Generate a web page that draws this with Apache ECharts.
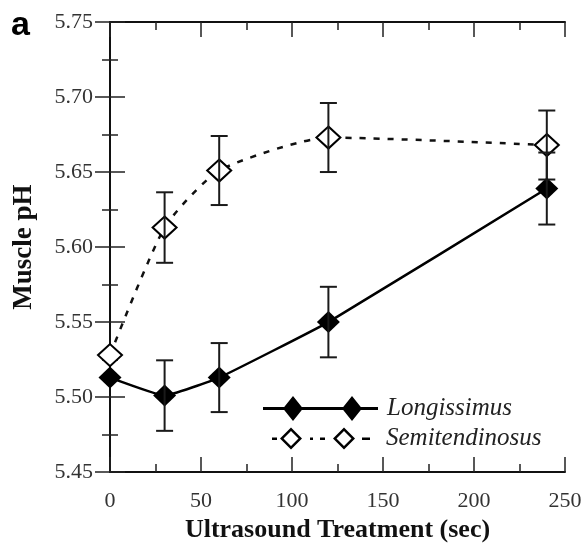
<!DOCTYPE html>
<html>
<head>
<meta charset="utf-8">
<script src="https://cdn.jsdelivr.net/npm/echarts@6/dist/echarts.min.js"></script>
<style>
html, body { margin: 0; padding: 0; background: #fff; }
#chart { width: 587px; height: 548px; }
</style>
</head>
<body>
<div id="chart"></div>
<script>
// treatment time (sec)
var times = [0, 30, 60, 120, 240];
// Longissimus (filled diamonds)
var longMean = [5.513, 5.501, 5.513, 5.550, 5.639];
var longErr = [0, 0.0235, 0.023, 0.0235, 0.024];
// Semitendinosus (open diamonds)
var semiMean = [5.528, 5.613, 5.651, 5.673, 5.668];
var semiErr = [0, 0.0235, 0.023, 0.023, 0.023];

var serif = 'Liberation Serif';

function pairs(xs, ys) {
    var out = [];
    for (var i = 0; i < xs.length; i++) out.push([xs[i], ys[i]]);
    return out;
}
function bars(xs, ys, es) {
    var out = [];
    for (var i = 0; i < xs.length; i++) out.push([xs[i], ys[i] - es[i], ys[i] + es[i]]);
    return out;
}

function errorBar(params, api) {
    var x = api.value(0), lo = api.value(1), hi = api.value(2);
    if (hi - lo <= 0) return null;
    var top = api.coord([x, hi]);
    var bot = api.coord([x, lo]);
    var w = 8.5;
    var st = { stroke: '#1a1a1a', lineWidth: 2 };
    return {
        type: 'group',
        children: [
            { type: 'line', shape: { x1: top[0], y1: top[1], x2: bot[0], y2: bot[1] }, style: st },
            { type: 'line', shape: { x1: top[0] - w, y1: top[1], x2: top[0] + w, y2: top[1] }, style: st },
            { type: 'line', shape: { x1: bot[0] - w, y1: bot[1], x2: bot[0] + w, y2: bot[1] }, style: st }
        ]
    };
}

// legend icons: line with two diamonds
var iconFilled = 'path://M0,11 L115,11 L115,14 L0,14 Z ' +
    'M30,0 L40,12.5 L30,25 L20,12.5 Z M89,0 L99,12.5 L89,25 L79,12.5 Z';
var iconOpen = 'path://M0,10 L5,10 L5,12.5 L0,12.5 Z ' +
    'M19,0 L30,11 L19,22 L8,11 Z M19,3.5 L11.5,11 L19,18.5 L26.5,11 Z ' +
    'M38,10 L41,10 L41,12.5 L38,12.5 Z M48,10 L53,10 L53,12.5 L48,12.5 Z ' +
    'M72,0 L83,11 L72,22 L61,11 Z M72,3.5 L64.5,11 L72,18.5 L79.5,11 Z ' +
    'M90,10 L98,10 L98,12.5 L90,12.5 Z';

var axisLine = { show: true, lineStyle: { color: '#111', width: 2 } };
var tickStyle = { color: '#222', width: 1.5 };

var chart = echarts.init(document.getElementById('chart'), null, { renderer: 'canvas' });
chart.setOption({
    animation: false,
    backgroundColor: '#fff',
    textStyle: { fontFamily: serif },
    grid: { left: 110, right: 22, top: 22, bottom: 71 },
    xAxis: [{
        type: 'value', min: 0, max: 250, interval: 50,
        axisLine: axisLine,
        axisTick: { show: true, inside: true, length: 15, lineStyle: tickStyle },
        minorTick: { show: true, splitNumber: 2, length: 8, lineStyle: tickStyle },
        splitLine: { show: false },
        axisLabel: { margin: 18, fontFamily: serif, fontSize: 22, color: '#333' },
        name: 'Ultrasound Treatment (sec)',
        nameLocation: 'middle', nameGap: 39,
        nameTextStyle: { fontFamily: serif, fontWeight: 'bold', fontSize: 26, color: '#111' }
    }, {
        type: 'value', position: 'top', min: 0, max: 250, interval: 50,
        axisLine: axisLine,
        axisTick: { show: true, inside: true, length: 15, lineStyle: tickStyle },
        minorTick: { show: true, splitNumber: 2, length: 8, lineStyle: tickStyle },
        splitLine: { show: false },
        axisLabel: { show: false }
    }],
    yAxis: [{
        type: 'value', min: 5.45, max: 5.75, interval: 0.05,
        axisLine: axisLine,
        axisTick: { show: true, inside: true, length: 15, lineStyle: tickStyle },
        minorTick: { show: true, splitNumber: 2, length: 8, lineStyle: tickStyle },
        splitLine: { show: false },
        axisLabel: {
            margin: 17, fontFamily: serif, fontSize: 22, color: '#333',
            formatter: function (v) { return v.toFixed(2); }
        },
        name: 'Muscle pH',
        nameLocation: 'middle', nameGap: 72,
        nameTextStyle: { fontFamily: serif, fontWeight: 'bold', fontSize: 27, color: '#111' }
    }, {
        type: 'value', position: 'right', min: 5.45, max: 5.75, interval: 0.05,
        axisLine: axisLine,
        axisTick: { show: true, inside: true, length: 15, lineStyle: tickStyle },
        minorTick: { show: true, splitNumber: 2, length: 8, lineStyle: tickStyle },
        splitLine: { show: false },
        axisLabel: { show: false }
    }],
    graphic: [{
        type: 'text', left: 11, top: 9,
        style: { text: 'a', font: 'bold 34px "Liberation Sans", Arial, sans-serif', fill: '#000' }
    }],
    legend: [{
        data: [{ name: 'Longissimus', icon: iconFilled }],
        left: 258, top: 391, orient: 'vertical',
        itemWidth: 115, itemHeight: 25, selectedMode: false,
        itemStyle: { color: '#000', borderWidth: 0 },
        textStyle: { fontFamily: serif, fontStyle: 'italic', fontSize: 25, color: '#222', padding: [0, 0, 0, 4] }
    }, {
        data: [{ name: 'Semitendinosus', icon: iconOpen }],
        left: 267, top: 421, orient: 'vertical',
        itemWidth: 98, itemHeight: 22, selectedMode: false,
        itemStyle: { color: '#000', borderWidth: 0 },
        textStyle: { fontFamily: serif, fontStyle: 'italic', fontSize: 25, color: '#222', padding: [0, 0, 0, 11] }
    }],
    series: [
        {
            name: 'Semitendinosus', type: 'line', data: pairs(times, semiMean),
            smooth: 0.2, symbol: 'emptyDiamond', symbolSize: [24, 22],
            lineStyle: { color: '#111', width: 2.5, type: [6, 8] },
            itemStyle: { color: '#000', borderWidth: 2 }, z: 3
        },
        {
            name: 'Longissimus', type: 'line', data: pairs(times, longMean),
            smooth: 0.1, symbol: 'diamond', symbolSize: [23, 22],
            lineStyle: { color: '#000', width: 2.5 },
            itemStyle: { color: '#000' }, z: 4
        },
        {
            name: 'semiErr', type: 'custom', renderItem: errorBar,
            data: bars(times, semiMean, semiErr), z: 5, silent: true
        },
        {
            name: 'longErr', type: 'custom', renderItem: errorBar,
            data: bars(times, longMean, longErr), z: 5, silent: true
        }
    ]
});
</script>
</body>
</html>
